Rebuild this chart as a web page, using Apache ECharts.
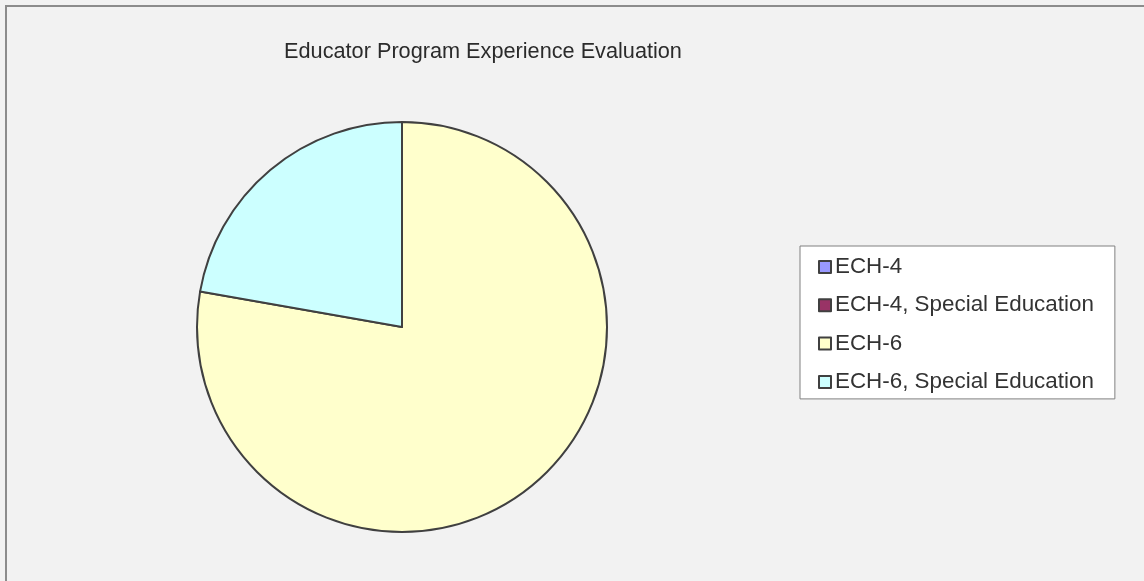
<!DOCTYPE html>
<html>
<head>
<meta charset="utf-8">
<script src="https://cdn.jsdelivr.net/npm/echarts@6/dist/echarts.min.js"></script>
<style>
html,body{margin:0;padding:0;background:#f2f2f2;}
#c{width:1144px;height:581px;}
</style>
</head>
<body>
<div id="c"></div>
<script>
const titleText = 'Educator Program Experience Evaluation';
const categories = ['ECH-4', 'ECH-4, Special Education', 'ECH-6', 'ECH-6, Special Education'];
const values = [0, 0, 7, 2];
const colors = ['#9999ff', '#993366', '#ffffcc', '#ccffff'];

const chart = echarts.init(document.getElementById('c'));
const fontFamily = '"Liberation Sans", Arial, sans-serif';
chart.setOption({
  backgroundColor: '#f2f2f2',
  animation: false,
  color: colors,
  title: {
    text: titleText,
    left: 478, top: 36, textAlign: 'center',
    textStyle: { fontFamily: fontFamily, fontSize: 21.7, fontWeight: 'normal', color: '#2b2b2b' }
  },
  legend: {
    orient: 'vertical',
    left: 800, top: 246,
    padding: [9, 21, 5, 18],
    itemGap: 14.3,
    itemWidth: 12, itemHeight: 12,
    icon: 'rect',
    backgroundColor: '#ffffff',
    borderColor: '#808080', borderWidth: 1,
    itemStyle: { borderColor: '#404040', borderWidth: 2 },
    textStyle: { fontFamily: fontFamily, fontSize: 22.4, color: '#333333', lineHeight: 24, padding: [0,0,0,-1] },
    data: categories
  },
  graphic: [{
    type: 'rect', silent: true, z: -1,
    shape: { x: 6, y: 6, width: 1300, height: 800 },
    style: { fill: 'none', stroke: '#8c8c8c', lineWidth: 2 }
  }],
  series: [{
    type: 'pie',
    center: [402, 327],
    radius: 205,
    startAngle: 90,
    clockwise: true,
    label: { show: false },
    labelLine: { show: false },
    emphasis: { disabled: true },
    itemStyle: { borderColor: '#404040', borderWidth: 2 },
    data: categories.map((n, i) => ({ name: n, value: values[i] }))
  }]
});
</script>
</body>
</html>
